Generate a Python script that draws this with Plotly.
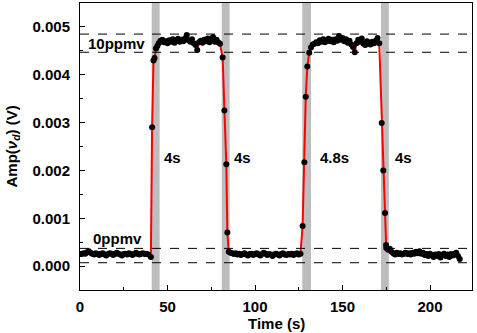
import plotly.graph_objects as go

# sampled signal, split by segment (time in s, amplitude in V)
base1_t = [0, 1, 2, 3, 4, 5, 6, 7, 8, 9, 10, 11, 12, 13, 14, 15, 16, 17, 18, 19, 20,
           21, 22, 23, 24, 25, 26, 27, 28, 29, 30, 31, 32, 33, 34, 35, 36, 37, 38, 39, 40.5]
base1_v = [0.00026, 0.00025, 0.00027, 0.00026, 0.00029, 0.00031, 0.00028, 0.00026, 0.00024, 0.00027,
           0.00025, 0.00023, 0.00026, 0.00027, 0.00024, 0.00022, 0.00025, 0.00027, 0.00026, 0.00023,
           0.00025, 0.00028, 0.00026, 0.00024, 0.00022, 0.00025, 0.00026, 0.00024, 0.00027, 0.00025,
           0.00023, 0.00026, 0.00028, 0.00025, 0.00024, 0.00026, 0.00027, 0.00025, 0.00026, 0.00024,
           0.00019]

rise1_t = [41.2, 42.0, 42.6, 43.4, 44.2]
rise1_v = [0.0029, 0.0043, 0.00435, 0.00455, 0.0046]

plat1_t = [45, 46, 47, 48, 49, 50, 51, 52, 53, 54, 55, 56, 57, 58, 59, 60, 61, 62,
           63, 64, 65, 66, 67, 68, 69, 70, 71, 72, 73, 74, 75, 76, 77, 78, 79, 80]
plat1_v = [0.00466, 0.00471, 0.00473, 0.00468, 0.00470, 0.00466, 0.00472, 0.00469, 0.00474,
           0.00467, 0.00471, 0.00475, 0.00469, 0.00473, 0.00470, 0.00476, 0.00483, 0.00472,
           0.00469, 0.00474, 0.00466, 0.00462, 0.00452, 0.00468, 0.00471, 0.00467, 0.00473,
           0.00470, 0.00476, 0.00468, 0.00472, 0.00479, 0.00469, 0.00473, 0.00468, 0.00465]

fall1_t = [81.5, 82.5, 83.6, 84.2]
fall1_v = [0.00436, 0.00325, 0.00213, 0.0007]

base2_t = [85, 86, 87, 88, 89, 90, 91, 92, 93, 94, 95, 96, 97, 98, 99, 100, 101, 102, 103, 104, 105,
           106, 107, 108, 109, 110, 111, 112, 113, 114, 115, 116, 117, 118, 119, 120, 121, 122,
           123, 124, 125, 126]
base2_v = [0.00030, 0.00028, 0.00027, 0.00025, 0.00027, 0.00024, 0.00026, 0.00023, 0.00025,
           0.00027, 0.00024, 0.00022, 0.00025, 0.00026, 0.00023, 0.00025, 0.00027, 0.00024,
           0.00022, 0.00025, 0.00028, 0.00026, 0.00023, 0.00025, 0.00024, 0.00021, 0.00024,
           0.00026, 0.00024, 0.00022, 0.00025, 0.00027, 0.00024, 0.00023, 0.00025, 0.00024,
           0.00026, 0.00023, 0.00025, 0.00027, 0.00024, 0.00026]

rise2_t = [127.2, 128.2, 129.0, 129.9, 131.0]
rise2_v = [0.00084, 0.00217, 0.00354, 0.00417, 0.00446]

plat2_t = [132, 133, 134, 135, 136, 137, 138, 139, 140, 141, 142, 143, 144, 145, 146, 147,
           148, 149, 150, 151, 152, 153, 154, 155, 156, 157, 158, 159, 160, 161, 162, 163,
           164, 165, 166, 167, 168, 169, 170, 171]
plat2_v = [0.00457, 0.00463, 0.00465, 0.00468, 0.00466, 0.00472, 0.00469, 0.00474, 0.00468,
           0.00471, 0.00475, 0.00470, 0.00473, 0.00468, 0.00474, 0.00471, 0.00481, 0.00473,
           0.00477, 0.00470, 0.00474, 0.00467, 0.00471, 0.00463, 0.00458, 0.00447, 0.00466,
           0.00473, 0.00469, 0.00476, 0.00465, 0.00462, 0.00470, 0.00467, 0.00463, 0.00469,
           0.00466, 0.00471, 0.00477, 0.00466]

fall2_t = [172.4, 173.3, 174.3, 174.9]
fall2_v = [0.00299, 0.0020, 0.00111, 0.00044]

base3_t = [175, 176, 177, 178, 179, 180, 181, 182, 183, 184, 185, 186, 187, 188, 189, 190,
           191, 192, 193, 194, 195, 196, 197, 198, 199, 200, 201, 202, 203, 204, 205, 206,
           207, 208, 209, 210, 211, 212, 213, 214, 215, 216, 217]
base3_v = [0.00038, 0.00034, 0.00036, 0.00030, 0.00027, 0.00024, 0.00028, 0.00025, 0.00027,
           0.00024, 0.00026, 0.00028, 0.00025, 0.00027, 0.00024, 0.00028, 0.00026, 0.00030,
           0.00027, 0.00031, 0.00026, 0.00028, 0.00023, 0.00025, 0.00021, 0.00026, 0.00023,
           0.00019, 0.00024, 0.00021, 0.00025, 0.00018, 0.00023, 0.00026, 0.00021, 0.00024,
           0.00019, 0.00025, 0.00022, 0.00026, 0.00028, 0.00021, 0.00015]

# response-time windows (grey bands) and their labels
band_start = [41, 81, 127, 172]
band_end = [45.5, 85.5, 132, 176.5]
band_label = ["4s", "4s", "4.8s", "4s"]
label_x = [52.6, 93, 145.7, 184.6]

# concentration level guide lines
level_y = [0.00485, 0.00447, 0.00037, 0.00007]
level_text = ["10ppmv", "0ppmv"]
level_text_x = [20.6, 21.7]
level_text_y = [0.00465, 0.00058]

x_ticks = [0, 50, 100, 150, 200]
y_ticks = [0.0, 0.001, 0.002, 0.003, 0.004, 0.005]

t = base1_t + rise1_t + plat1_t + fall1_t + base2_t + rise2_t + plat2_t + fall2_t + base3_t
v = base1_v + rise1_v + plat1_v + fall1_v + base2_v + rise2_v + plat2_v + fall2_v + base3_v

FONT = "Liberation Sans"
BOLD = dict(family=FONT, size=15, color="black", weight="bold")

fig = go.Figure()
fig.add_trace(go.Scatter(
    x=t, y=v, mode="lines+markers",
    line=dict(color="#ff0000", width=2),
    marker=dict(color="black", size=6),
    showlegend=False,
))

for x0, x1 in zip(band_start, band_end):
    fig.add_vrect(x0=x0, x1=x1, fillcolor="#bdbdbd", opacity=1, line_width=0, layer="below")

for yv in level_y:
    fig.add_shape(type="line", x0=0, x1=222, y0=yv, y1=yv,
                  line=dict(color="black", width=1, dash="dash"), layer="above")

for lx, lab in zip(label_x, band_label):
    fig.add_annotation(x=lx, y=0.00227, text=lab, showarrow=False, font=BOLD)

for tx, ty, lab in zip(level_text_x, level_text_y, level_text):
    fig.add_annotation(x=tx, y=ty, text=lab, showarrow=False, font=BOLD)

# axis titles as paper annotations so margins stay fixed
fig.add_annotation(xref="paper", yref="paper", x=0.5, y=0, yshift=-33, yanchor="middle",
                   text="Time (s)", showarrow=False, font=BOLD)
fig.add_annotation(xref="paper", yref="paper", x=0, y=0.5, xshift=-68, xanchor="center",
                   textangle=-90, text="Amp(<i>ν<sub>d</sub></i>) (V)", showarrow=False, font=BOLD)

axis_common = dict(
    showline=True, linecolor="black", linewidth=1, mirror=True, automargin=False,
    ticks="inside", ticklen=5, tickcolor="black", showgrid=False, zeroline=False,
    tickfont=BOLD,
)

fig.update_xaxes(
    range=[0, 224], tickvals=x_ticks, ticktext=[str(x) for x in x_ticks],
    minor=dict(ticks="inside", ticklen=3, dtick=25, tickcolor="black"),
    ticklabelstandoff=3,
    **axis_common,
)
fig.update_yaxes(
    range=[-0.0005, 0.0055], tickvals=y_ticks, ticktext=["%.3f" % y for y in y_ticks],
    minor=dict(ticks="inside", ticklen=3, dtick=0.0005, tickcolor="black"),
    ticklabelstandoff=6,
    **axis_common,
)

fig.update_layout(
    width=477, height=333,
    margin=dict(l=80, r=5, t=3, b=43),
    plot_bgcolor="white", paper_bgcolor="white",
    font=dict(family=FONT),
)

# drop the browser's default page margin so the figure sits at the window origin
fig.write_html("out.html", config={"displayModeBar": False},
               post_script="document.body.style.margin='0';")
